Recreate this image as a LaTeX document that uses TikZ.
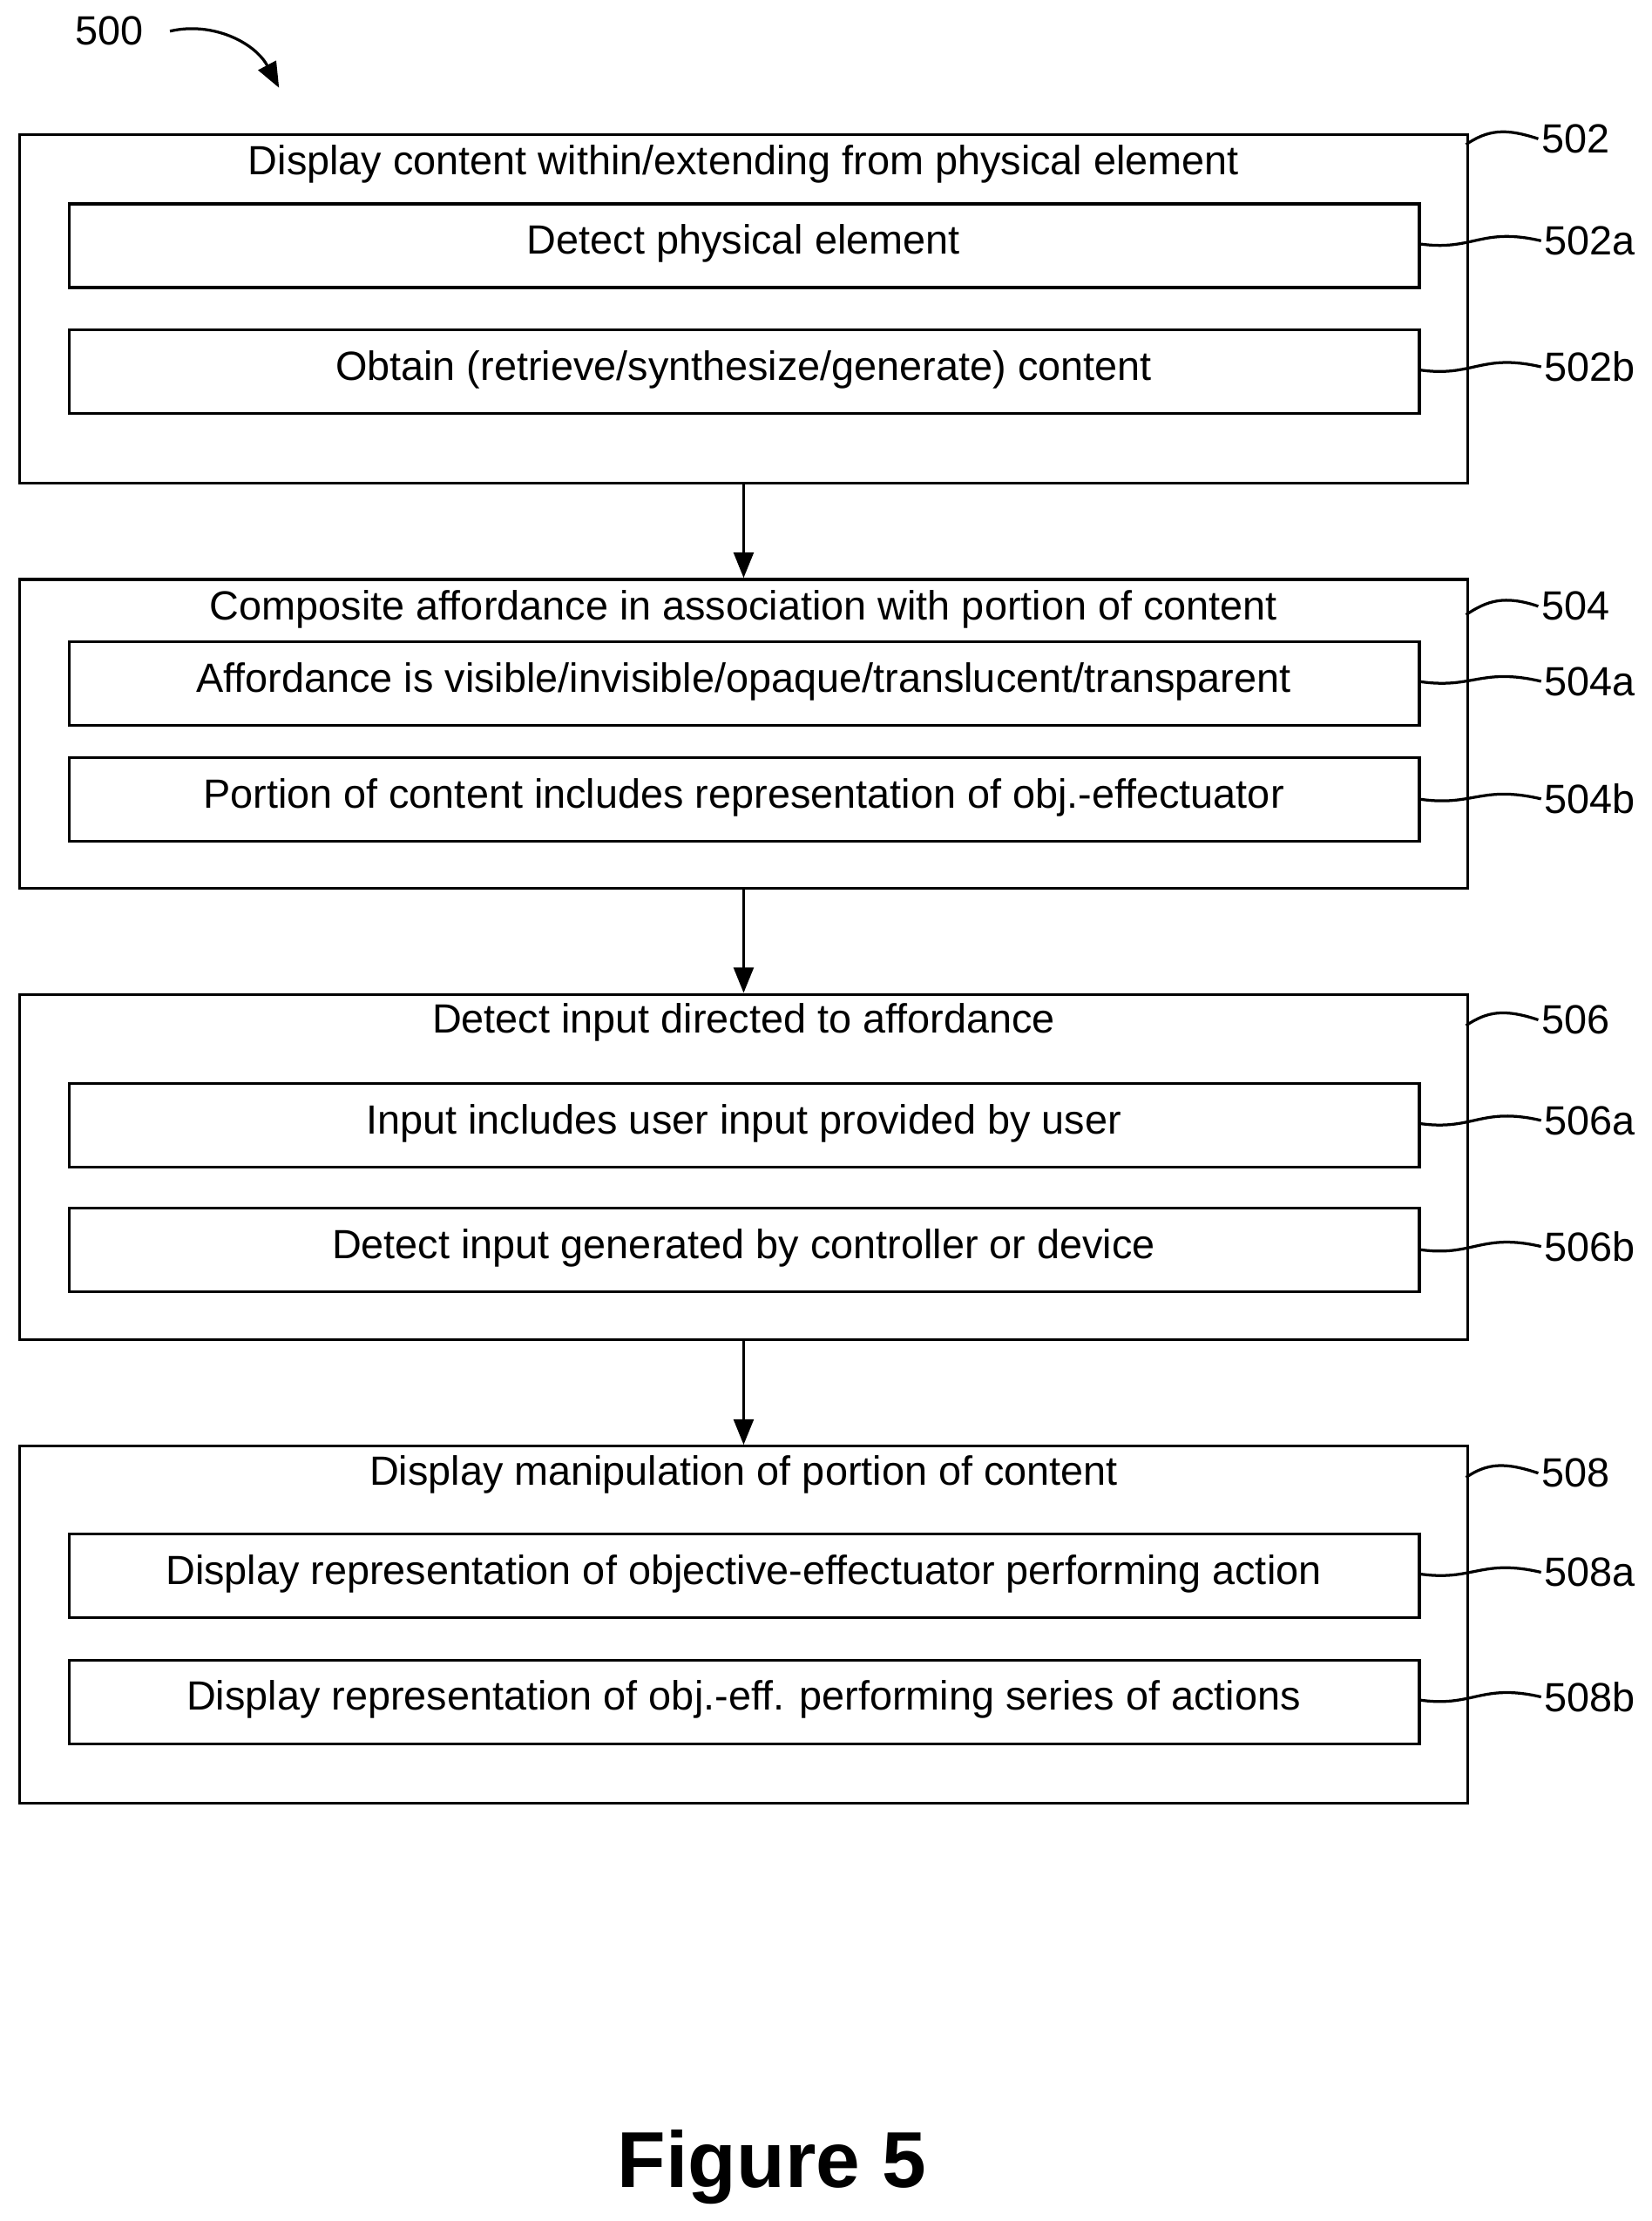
\documentclass[tikz,border=0pt]{standalone}
\usepackage{fontspec}
\setmainfont{Liberation Sans}
\usetikzlibrary{arrows.meta}
\begin{document}
\begin{tikzpicture}[x=0.5pt,y=-0.5pt,
  outer/.style={draw,line width=1pt,inner sep=0},
  inner/.style={draw,line width=1pt,inner sep=0,minimum width=476.5pt,minimum height=29.5pt},
  txt/.style={font=\fontsize{14.4}{16}\selectfont,inner sep=0},
  lbl/.style={font=\fontsize{14.4}{16}\selectfont,anchor=west,inner sep=1pt},
  flow/.style={line width=1pt,-{Triangle[length=9pt,width=7pt]}},
  lead/.style={line width=1pt}]
\useasboundingbox (0,0) rectangle (1166,1568);
% 500
\node[txt] (n500) at (77,22) {500};
\coordinate (a500) at (197,62);
\draw[lead,-{Triangle[length=9pt,width=7pt]}] (120,22) .. controls (150,15) and (180,30) .. (a500);
% boxes
\newcommand{\stepbox}[9]{%
 \node[outer,minimum width=511pt,minimum height={0.5*(#3-#2)},anchor=north west] (#1) at (13,#2) {};
 \node[txt] (#1t) at (525,#4) {#5};
 \node[inner,anchor=north west] (#1a) at (48,#6) {};
 \node[txt] (#1at) at (525,#6+29) {#7};
 \node[inner,anchor=north west] (#1b) at (48,#8) {};
 \node[txt] (#1bt) at (525,#8+29) {#9};
}
\stepbox{s502}{94}{340}{116}{Display content within/extending from physical element}{143}{Detect physical element}{232}{Obtain (retrieve/synthesize/generate) content}
\stepbox{s504}{408}{626}{430}{Composite affordance in association with portion of content}{452}{Affordance is visible/invisible/opaque/translucent/transparent}{534}{Portion of content includes representation of obj.-effectuator}
\stepbox{s506}{701}{945}{722}{Detect input directed to affordance}{764}{Input includes user input provided by user}{852}{Detect input generated by controller or device}
\stepbox{s508}{1020}{1272}{1041}{Display manipulation of portion of content}{1082}{Display representation of objective-effectuator performing action}{1171}{Display representation of obj.-eff. performing series of actions}
\draw[flow] (s502.south) -- (s504.north);
\draw[flow] (s504.south) -- (s506.north);
\draw[flow] (s506.south) -- (s508.north);
% leaders
\newcommand{\outerlead}[3]{%
 \node[lbl] (L#1) at (1086,#3) {#1};
 \draw[lead] (1035,#2) .. controls (1050,#2-10) and (1062,#3-8) .. (L#1.west);
}
\newcommand{\innerlead}[3]{%
 \node[lbl] (L#1) at (1088,#3) {#1};
 \draw[lead] (1001,#2) .. controls (1040,#2+6) and (1045,#3-10) .. (L#1.west);
}
\outerlead{502}{102}{98}
\innerlead{502a}{172}{170}
\innerlead{502b}{261}{259}
\outerlead{504}{434}{428}
\innerlead{504a}{481}{481}
\innerlead{504b}{564}{564}
\outerlead{506}{724}{720}
\innerlead{506a}{793}{791}
\innerlead{506b}{882}{880}
\outerlead{508}{1043}{1040}
\innerlead{508a}{1111}{1110}
\innerlead{508b}{1200}{1198}
\node[font=\bfseries\fontsize{28}{32}\selectfont] (fig) at (545,1530) {Figure 5};
\end{tikzpicture}
\end{document}
